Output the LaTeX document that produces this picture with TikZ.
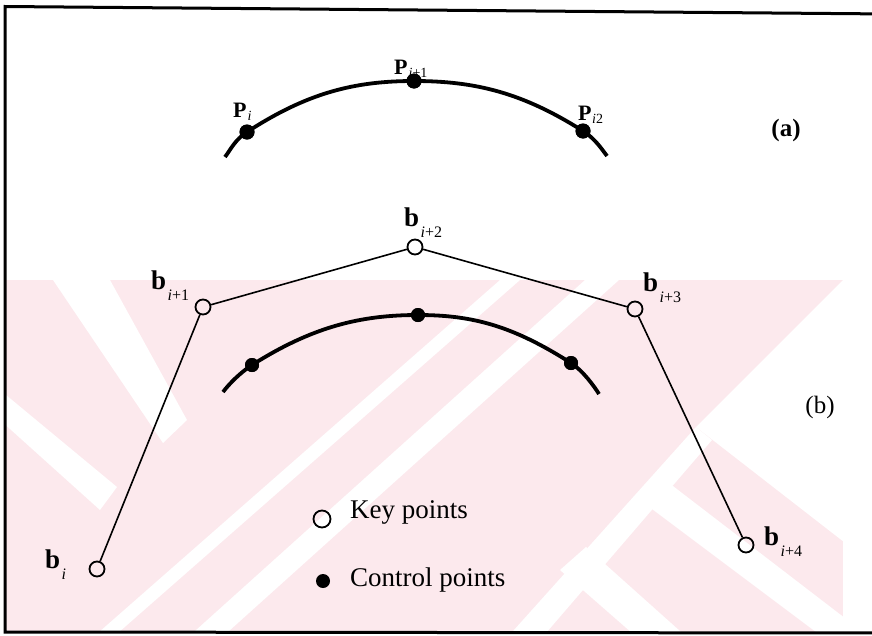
\documentclass[tikz,border=0pt]{standalone}
\usepackage{fontspec}
\setmainfont{Liberation Serif}
\definecolor{wmpink}{RGB}{252,233,237}
\newcommand\blab[1]{{\fontsize{27}{27}\selectfont\bfseries b}\hspace{1.5pt}\raisebox{-11pt}{\fontsize{16}{16}\selectfont #1}}
\newcommand\plab[2]{{\fontsize{22}{22}\selectfont\bfseries P}\hspace{#2}\raisebox{-3pt}{\fontsize{14}{14}\selectfont #1}}
\begin{document}
\begin{tikzpicture}[x=1pt,y=-1pt,
  keypt/.style={circle, draw=black, line width=1.8pt, minimum size=15pt, inner sep=0pt},
  ctrlpt/.style={circle, fill=black, minimum size=15pt, inner sep=0pt},
  polyline/.style={line width=1.6pt},
  curveline/.style={line width=3.8pt},
  lbl/.style={anchor=base west, inner sep=0pt},
  legtext/.style={anchor=base west, inner sep=0pt, font=\fontsize{27}{27}\selectfont}]
\useasboundingbox (0,0) rectangle (872,635);
% watermark
\begin{scope}
  \clip (6,280) rectangle (843,632);
  \fill[wmpink] (6,280) rectangle (843,632);
  \fill[white] (53,280) -- (110,280) -- (187,420) -- (163,443) -- cycle;
  \fill[white] (0,390) -- (117,487) -- (100,510) -- (0,420) -- cycle;
  \fill[white] (90,640) -- (110,640) -- (520,280) -- (500,280) -- cycle;
  \fill[white] (185,640) -- (219,640) -- (619,280) -- (585,280) -- cycle;
  \fill[white] (505,640) -- (540,640) -- (712,440) -- (696,427) -- cycle;
  \fill[white] (696,427) -- (843,280) -- (880,280) -- (880,570) -- cycle;
  \fill[white] (656,473) -- (880,645) -- (880,680) -- (636,497) -- cycle;
  \fill[white] (586,547) -- (560,570) -- (640,640) -- (690,640) -- cycle;
\end{scope}
% frame
\draw[line width=3pt] (5,6.5) -- (890,14) -- (890,633) -- (5,632) -- cycle;
% (a) curve
\coordinate (a0) at (225,157);
\coordinate (a4) at (607,156);
\node[ctrlpt] (pi) at (247,132) {};
\node[ctrlpt] (pi1) at (414,81) {};
\node[ctrlpt] (pi2) at (583,131) {};
\draw[curveline] (a0) .. controls (231,149) and (235,139.8) .. (pi.center)
  .. controls (307,93) and (354,81) .. (pi1.center)
  .. controls (476,81) and (523,93) .. (pi2.center)
  .. controls (595,138.8) and (601,148) .. (a4);
\node[ctrlpt] at (pi) {};
\node[ctrlpt] at (pi1) {};
\node[ctrlpt] at (pi2) {};
\node[lbl] (lpi) at (233,117) {\plab{\textit{i}}{1pt}};
\node[lbl] (lpi1) at (394,74) {\plab{\textit{i}+1}{1pt}};
\node[lbl] (lpi2) at (578,120) {\plab{\textit{i}2}{0.5pt}};
\node[font=\fontsize{25}{25}\selectfont\bfseries] (la) at (786,130) {(a)};
% (b) key points and control polygon
\node[keypt] (bi) at (97,569) {};
\node[keypt] (bi1) at (203,307) {};
\node[keypt] (bi2) at (415,247) {};
\node[keypt] (bi3) at (635,309) {};
\node[keypt] (bi4) at (746,545) {};
\draw[polyline] (bi) -- (bi1) -- (bi2) -- (bi3) -- (bi4);
\node[lbl] (lbi) at (45,568) {\blab{\textit{i}}};
\node[lbl] (lbi1) at (151,289) {\blab{\textit{i}+1}};
\node[lbl] (lbi2) at (404,226) {\blab{\textit{i}+2}};
\node[lbl] (lbi3) at (643,291) {\blab{\textit{i}+3}};
\node[lbl] (lbi4) at (764,545) {\blab{\textit{i}+4}};
% (b) curve
\coordinate (b0) at (223,392);
\coordinate (b4) at (599,394);
\node[ctrlpt, minimum size=14pt] (c1) at (252,365) {};
\node[ctrlpt, minimum size=14pt] (c2) at (418,315) {};
\node[ctrlpt, minimum size=14pt] (c3) at (571,363) {};
\draw[curveline] (b0) .. controls (229,384) and (240,372.8) .. (c1.center)
  .. controls (312,327) and (360,315) .. (c2.center)
  .. controls (473,315) and (513,326) .. (c3.center)
  .. controls (583,370.8) and (594,386) .. (b4);
\node[ctrlpt, minimum size=14pt] at (c1) {};
\node[ctrlpt, minimum size=14pt] at (c2) {};
\node[ctrlpt, minimum size=14pt] at (c3) {};
\node[font=\fontsize{25}{25}\selectfont] (lb) at (820,407) {(b)};
% legend
\node[keypt, minimum size=17pt] (lk) at (322,519) {};
\node[legtext] (lkt) at (350,518) {Key points};
\node[ctrlpt, minimum size=14pt] (lc) at (323,581) {};
\node[legtext] (lct) at (350,586) {Control points};
\end{tikzpicture}
\end{document}
